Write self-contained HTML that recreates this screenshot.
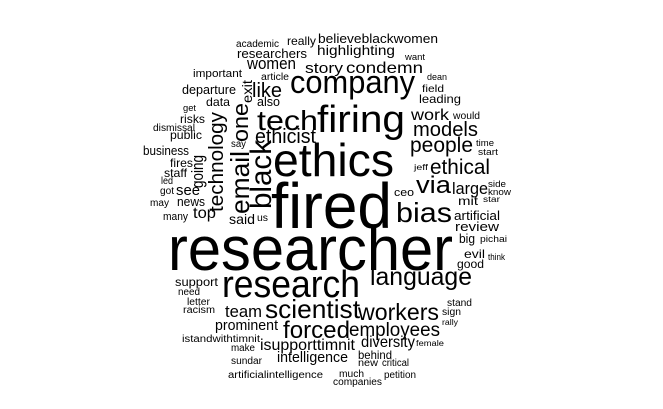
<!DOCTYPE html>
<html><head><meta charset="utf-8"><style>
html,body{margin:0;padding:0;background:#fff;}
svg{display:block;}
text{font-family:"Liberation Sans",Arial,sans-serif;fill:#000;}
</style></head><body>
<svg width="663" height="409" viewBox="0 0 663 409">
<g>
<text x="168" y="270" font-size="62" textLength="285" lengthAdjust="spacingAndGlyphs">researcher</text>
<text x="271" y="228" font-size="64" textLength="121" lengthAdjust="spacingAndGlyphs">fired</text>
<text x="273" y="176" font-size="46" textLength="121" lengthAdjust="spacingAndGlyphs">ethics</text>
<text x="317" y="132" font-size="38" textLength="88" lengthAdjust="spacingAndGlyphs">firing</text>
<text x="290" y="93" font-size="32" textLength="125" lengthAdjust="spacingAndGlyphs">company</text>
<text x="257" y="130" font-size="28" textLength="61" lengthAdjust="spacingAndGlyphs">tech</text>
<text x="255" y="143" font-size="20" textLength="61" lengthAdjust="spacingAndGlyphs">ethicist</text>
<text x="252" y="97" font-size="20" textLength="30" lengthAdjust="spacingAndGlyphs">like</text>
<text x="257" y="106" font-size="13" textLength="23" lengthAdjust="spacingAndGlyphs">also</text>
<text x="247" y="69" font-size="17" textLength="49" lengthAdjust="spacingAndGlyphs">women</text>
<text x="237" y="58" font-size="13" textLength="70" lengthAdjust="spacingAndGlyphs">researchers</text>
<text x="236" y="47" font-size="10" textLength="43" lengthAdjust="spacingAndGlyphs">academic</text>
<text x="287" y="45" font-size="12" textLength="29" lengthAdjust="spacingAndGlyphs">really</text>
<text x="318" y="43" font-size="13" textLength="120" lengthAdjust="spacingAndGlyphs">believeblackwomen</text>
<text x="317" y="55" font-size="14" textLength="78" lengthAdjust="spacingAndGlyphs">highlighting</text>
<text x="305" y="73" font-size="15" textLength="38" lengthAdjust="spacingAndGlyphs">story</text>
<text x="346" y="73" font-size="16" textLength="77" lengthAdjust="spacingAndGlyphs">condemn</text>
<text x="405" y="60" font-size="9" textLength="20" lengthAdjust="spacingAndGlyphs">want</text>
<text x="427" y="80" font-size="9" textLength="20" lengthAdjust="spacingAndGlyphs">dean</text>
<text x="422" y="92" font-size="10" textLength="22" lengthAdjust="spacingAndGlyphs">field</text>
<text x="419" y="103" font-size="12" textLength="42" lengthAdjust="spacingAndGlyphs">leading</text>
<text x="411" y="120" font-size="16" textLength="38" lengthAdjust="spacingAndGlyphs">work</text>
<text x="453" y="119" font-size="10" textLength="27" lengthAdjust="spacingAndGlyphs">would</text>
<text x="413" y="136" font-size="20" textLength="65" lengthAdjust="spacingAndGlyphs">models</text>
<text x="476" y="146" font-size="9" textLength="18" lengthAdjust="spacingAndGlyphs">time</text>
<text x="478" y="155" font-size="9" textLength="20" lengthAdjust="spacingAndGlyphs">start</text>
<text x="410" y="152" font-size="21" textLength="63" lengthAdjust="spacingAndGlyphs">people</text>
<text x="414" y="170" font-size="8" textLength="14" lengthAdjust="spacingAndGlyphs">jeff</text>
<text x="430" y="174" font-size="21" textLength="60" lengthAdjust="spacingAndGlyphs">ethical</text>
<text x="394" y="196" font-size="11" textLength="20" lengthAdjust="spacingAndGlyphs">ceo</text>
<text x="416" y="193" font-size="24" textLength="35" lengthAdjust="spacingAndGlyphs">via</text>
<text x="452" y="194" font-size="17" textLength="36" lengthAdjust="spacingAndGlyphs">large</text>
<text x="488" y="187" font-size="9" textLength="18" lengthAdjust="spacingAndGlyphs">side</text>
<text x="488" y="195" font-size="9" textLength="23" lengthAdjust="spacingAndGlyphs">know</text>
<text x="396" y="222" font-size="28" textLength="56" lengthAdjust="spacingAndGlyphs">bias</text>
<text x="458" y="205" font-size="12" textLength="20" lengthAdjust="spacingAndGlyphs">mit</text>
<text x="483" y="202" font-size="8" textLength="17" lengthAdjust="spacingAndGlyphs">star</text>
<text x="454" y="220" font-size="13" textLength="46" lengthAdjust="spacingAndGlyphs">artificial</text>
<text x="455" y="231" font-size="13" textLength="44" lengthAdjust="spacingAndGlyphs">review</text>
<text x="459" y="243" font-size="13" textLength="16" lengthAdjust="spacingAndGlyphs">big</text>
<text x="480" y="242" font-size="9" textLength="27" lengthAdjust="spacingAndGlyphs">pichai</text>
<text x="464" y="258" font-size="12" textLength="21" lengthAdjust="spacingAndGlyphs">evil</text>
<text x="488" y="260" font-size="9" textLength="17" lengthAdjust="spacingAndGlyphs">think</text>
<text x="457" y="268" font-size="12" textLength="27" lengthAdjust="spacingAndGlyphs">good</text>
<text x="370" y="285" font-size="25" textLength="102" lengthAdjust="spacingAndGlyphs">language</text>
<text x="447" y="306" font-size="10" textLength="25" lengthAdjust="spacingAndGlyphs">stand</text>
<text x="442" y="315" font-size="10" textLength="19" lengthAdjust="spacingAndGlyphs">sign</text>
<text x="442" y="325" font-size="8" textLength="16" lengthAdjust="spacingAndGlyphs">rally</text>
<text x="358" y="320" font-size="23" textLength="81" lengthAdjust="spacingAndGlyphs">workers</text>
<text x="349" y="336" font-size="19" textLength="91" lengthAdjust="spacingAndGlyphs">employees</text>
<text x="361" y="347" font-size="16" textLength="54" lengthAdjust="spacingAndGlyphs">diversity</text>
<text x="416" y="346" font-size="8" textLength="28" lengthAdjust="spacingAndGlyphs">female</text>
<text x="358" y="359" font-size="12" textLength="34" lengthAdjust="spacingAndGlyphs">behind</text>
<text x="358" y="366" font-size="10" textLength="20" lengthAdjust="spacingAndGlyphs">new</text>
<text x="382" y="366" font-size="10" textLength="27" lengthAdjust="spacingAndGlyphs">critical</text>
<text x="339" y="377" font-size="10" textLength="25" lengthAdjust="spacingAndGlyphs">much</text>
<text x="333" y="385" font-size="10" textLength="49" lengthAdjust="spacingAndGlyphs">companies</text>
<text x="384" y="378" font-size="10" textLength="32" lengthAdjust="spacingAndGlyphs">petition</text>
<text x="222" y="297" font-size="38" textLength="138" lengthAdjust="spacingAndGlyphs">research</text>
<text x="265" y="318" font-size="26" textLength="95" lengthAdjust="spacingAndGlyphs">scientist</text>
<text x="283" y="338" font-size="24" textLength="67" lengthAdjust="spacingAndGlyphs">forced</text>
<text x="260" y="350" font-size="16" textLength="95" lengthAdjust="spacingAndGlyphs">isupporttimnit</text>
<text x="277" y="362" font-size="15" textLength="71" lengthAdjust="spacingAndGlyphs">intelligence</text>
<text x="225" y="317" font-size="17" textLength="37" lengthAdjust="spacingAndGlyphs">team</text>
<text x="215" y="330" font-size="15" textLength="63" lengthAdjust="spacingAndGlyphs">prominent</text>
<text x="175" y="286" font-size="12" textLength="43" lengthAdjust="spacingAndGlyphs">support</text>
<text x="178" y="295" font-size="10" textLength="22" lengthAdjust="spacingAndGlyphs">need</text>
<text x="187" y="305" font-size="10" textLength="23" lengthAdjust="spacingAndGlyphs">letter</text>
<text x="183" y="313" font-size="10" textLength="32" lengthAdjust="spacingAndGlyphs">racism</text>
<text x="182" y="342" font-size="10" textLength="78" lengthAdjust="spacingAndGlyphs">istandwithtimnit</text>
<text x="231" y="351" font-size="10" textLength="24" lengthAdjust="spacingAndGlyphs">make</text>
<text x="231" y="364" font-size="10" textLength="31" lengthAdjust="spacingAndGlyphs">sundar</text>
<text x="228" y="378" font-size="10" textLength="95" lengthAdjust="spacingAndGlyphs">artificialintelligence</text>
<text x="193" y="77" font-size="11" textLength="49" lengthAdjust="spacingAndGlyphs">important</text>
<text x="261" y="80" font-size="10" textLength="28" lengthAdjust="spacingAndGlyphs">article</text>
<text x="182" y="94" font-size="13" textLength="54" lengthAdjust="spacingAndGlyphs">departure</text>
<text x="206" y="106" font-size="12" textLength="24" lengthAdjust="spacingAndGlyphs">data</text>
<text x="183" y="111" font-size="9" textLength="13" lengthAdjust="spacingAndGlyphs">get</text>
<text x="180" y="123" font-size="12" textLength="25" lengthAdjust="spacingAndGlyphs">risks</text>
<text x="153" y="131" font-size="10" textLength="42" lengthAdjust="spacingAndGlyphs">dismissal</text>
<text x="170" y="139" font-size="12" textLength="32" lengthAdjust="spacingAndGlyphs">public</text>
<text x="231" y="147" font-size="10" textLength="15" lengthAdjust="spacingAndGlyphs">say</text>
<text x="143" y="155" font-size="13" textLength="46" lengthAdjust="spacingAndGlyphs">business</text>
<text x="170" y="167" font-size="12" textLength="23" lengthAdjust="spacingAndGlyphs">fires</text>
<text x="164" y="177" font-size="12" textLength="23" lengthAdjust="spacingAndGlyphs">staff</text>
<text x="161" y="184" font-size="10" textLength="12" lengthAdjust="spacingAndGlyphs">led</text>
<text x="160" y="194" font-size="10" textLength="14" lengthAdjust="spacingAndGlyphs">got</text>
<text x="176" y="195" font-size="15" textLength="24" lengthAdjust="spacingAndGlyphs">see</text>
<text x="150" y="206" font-size="10" textLength="19" lengthAdjust="spacingAndGlyphs">may</text>
<text x="177" y="206" font-size="13" textLength="28" lengthAdjust="spacingAndGlyphs">news</text>
<text x="163" y="220" font-size="11" textLength="25" lengthAdjust="spacingAndGlyphs">many</text>
<text x="193" y="218" font-size="16" textLength="23" lengthAdjust="spacingAndGlyphs">top</text>
<text x="229" y="224" font-size="14" textLength="26" lengthAdjust="spacingAndGlyphs">said</text>
<text x="257" y="221" font-size="10" textLength="11" lengthAdjust="spacingAndGlyphs">us</text>
<text transform="translate(223,212) rotate(-90)" font-size="20" textLength="100" lengthAdjust="spacingAndGlyphs">technology</text>
<text transform="translate(248,142) rotate(-90)" font-size="22" textLength="39" lengthAdjust="spacingAndGlyphs">one</text>
<text transform="translate(249,214) rotate(-90)" font-size="26" textLength="63" lengthAdjust="spacingAndGlyphs">email</text>
<text transform="translate(271,209) rotate(-90)" font-size="30" textLength="69" lengthAdjust="spacingAndGlyphs">black</text>
<text transform="translate(203,188) rotate(-90)" font-size="17" textLength="33" lengthAdjust="spacingAndGlyphs">going</text>
<text transform="translate(252,103) rotate(-90)" font-size="14" textLength="23" lengthAdjust="spacingAndGlyphs">exit</text>
</g>
</svg>
</body></html>
